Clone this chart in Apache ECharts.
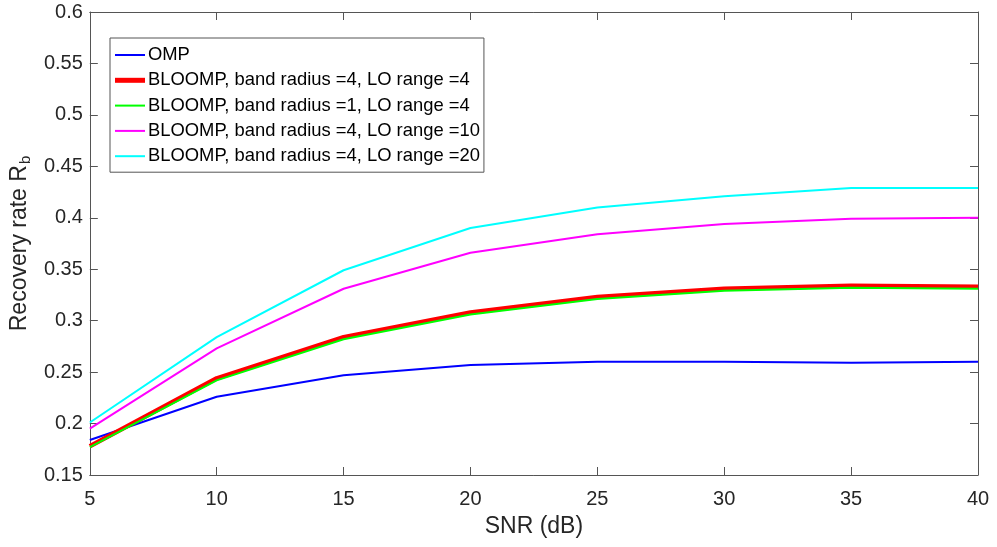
<!DOCTYPE html>
<html>
<head>
<meta charset="utf-8">
<script src="https://cdn.jsdelivr.net/npm/echarts@6/dist/echarts.min.js"></script>
<style>html,body{margin:0;padding:0;background:#fff;}#c{width:997px;height:547px;}</style>
</head>
<body>
<div id="c"></div>
<script>
const snr = [5, 10, 15, 20, 25, 30, 35, 40];
const omp = [0.184, 0.226, 0.247, 0.257, 0.260, 0.260, 0.259, 0.260];
const bloomp_r4_lo4 = [0.178, 0.244, 0.284, 0.308, 0.323, 0.331, 0.334, 0.333];
const bloomp_r1_lo4 = [0.177, 0.242, 0.282, 0.306, 0.321, 0.329, 0.332, 0.331];
const bloomp_r4_lo10 = [0.195, 0.273, 0.331, 0.366, 0.384, 0.394, 0.399, 0.400];
const bloomp_r4_lo20 = [0.201, 0.284, 0.349, 0.390, 0.410, 0.421, 0.429, 0.429];
const names = ['OMP', 'BLOOMP, band radius =4, LO range =4', 'BLOOMP, band radius =1, LO range =4', 'BLOOMP, band radius =4, LO range =10', 'BLOOMP, band radius =4, LO range =20'];
const colors = ['#0000ff', '#ff0000', '#00ff00', '#ff00ff', '#00ffff'];
const widths = [2, 4.5, 2, 2, 2];

const zip = a => snr.map((x, i) => [x, a[i]]);
const font = 'Liberation Sans, Arial, sans-serif';
const axisColor = '#555';
const txt = '#262626';

const mk = (i, data) => ({
  name: names[i], type: 'line', data: zip(data), showSymbol: false, symbol: 'none',
  lineStyle: { color: colors[i], width: widths[i] }, itemStyle: { color: colors[i] }, z: 2 + i, animation: false
});

const legendData = names.map((n, i) => ({
  name: n,
  icon: 'path://M0,0L30,0L30,' + (i === 1 ? 5 : 2) + 'L0,' + (i === 1 ? 5 : 2) + 'Z',
  itemStyle: { color: colors[i] }
}));

const chart = echarts.init(document.getElementById('c'));
chart.setOption({
  animation: false,
  textStyle: { fontFamily: font },
  grid: { left: 89, right: 19, top: 12, bottom: 72 },
  legend: {
    orient: 'vertical', left: 110, top: 38,
    backgroundColor: '#fff', borderColor: '#555', borderWidth: 1,
    padding: [8, 4, 7, 5], itemGap: 7.3, itemWidth: 30, itemHeight: 14,
    textStyle: { fontSize: 18.4, lineHeight: 18, color: '#000', fontFamily: font, padding: [0, 0, 0, -2] },
    data: legendData
  },
  xAxis: [{
    type: 'value', min: 5, max: 40, interval: 5,
    name: 'SNR (dB)', nameLocation: 'middle', nameGap: 40,
    nameTextStyle: { fontSize: 23, color: txt, fontFamily: font },
    axisLine: { lineStyle: { color: axisColor } },
    axisTick: { inside: true, length: 8, lineStyle: { color: axisColor } },
    axisLabel: { fontSize: 20, color: txt, margin: 14, fontFamily: font },
    splitLine: { show: false }
  }, {
    type: 'value', min: 5, max: 40, interval: 5, position: 'top',
    axisLine: { show: true, lineStyle: { color: axisColor } },
    axisTick: { inside: true, length: 8, lineStyle: { color: axisColor } },
    axisLabel: { show: false }, splitLine: { show: false }
  }],
  yAxis: [{
    type: 'value', min: 0.15, max: 0.6, interval: 0.05,
    name: 'Recovery rate R{sub|b}', nameLocation: 'middle', nameGap: 58,
    nameTextStyle: { fontSize: 23, color: txt, fontFamily: font,
      rich: { sub: { fontSize: 15, color: txt, fontFamily: font, padding: [0, 0, -12, 1] } } },
    axisLine: { show: true, lineStyle: { color: axisColor } },
    axisTick: { show: true, inside: true, length: 8, lineStyle: { color: axisColor } },
    axisLabel: { fontSize: 20, color: txt, margin: 7, fontFamily: font,
      formatter: v => String(parseFloat(v.toFixed(2))) },
    splitLine: { show: false }
  }, {
    type: 'value', min: 0.15, max: 0.6, interval: 0.05, position: 'right',
    axisLine: { show: true, lineStyle: { color: axisColor } },
    axisTick: { show: true, inside: true, length: 8, lineStyle: { color: axisColor } },
    axisLabel: { show: false }, splitLine: { show: false }
  }],
  series: [
    mk(0, omp),
    mk(1, bloomp_r4_lo4),
    mk(2, bloomp_r1_lo4),
    mk(3, bloomp_r4_lo10),
    mk(4, bloomp_r4_lo20)
  ]
});
</script>
</body>
</html>
